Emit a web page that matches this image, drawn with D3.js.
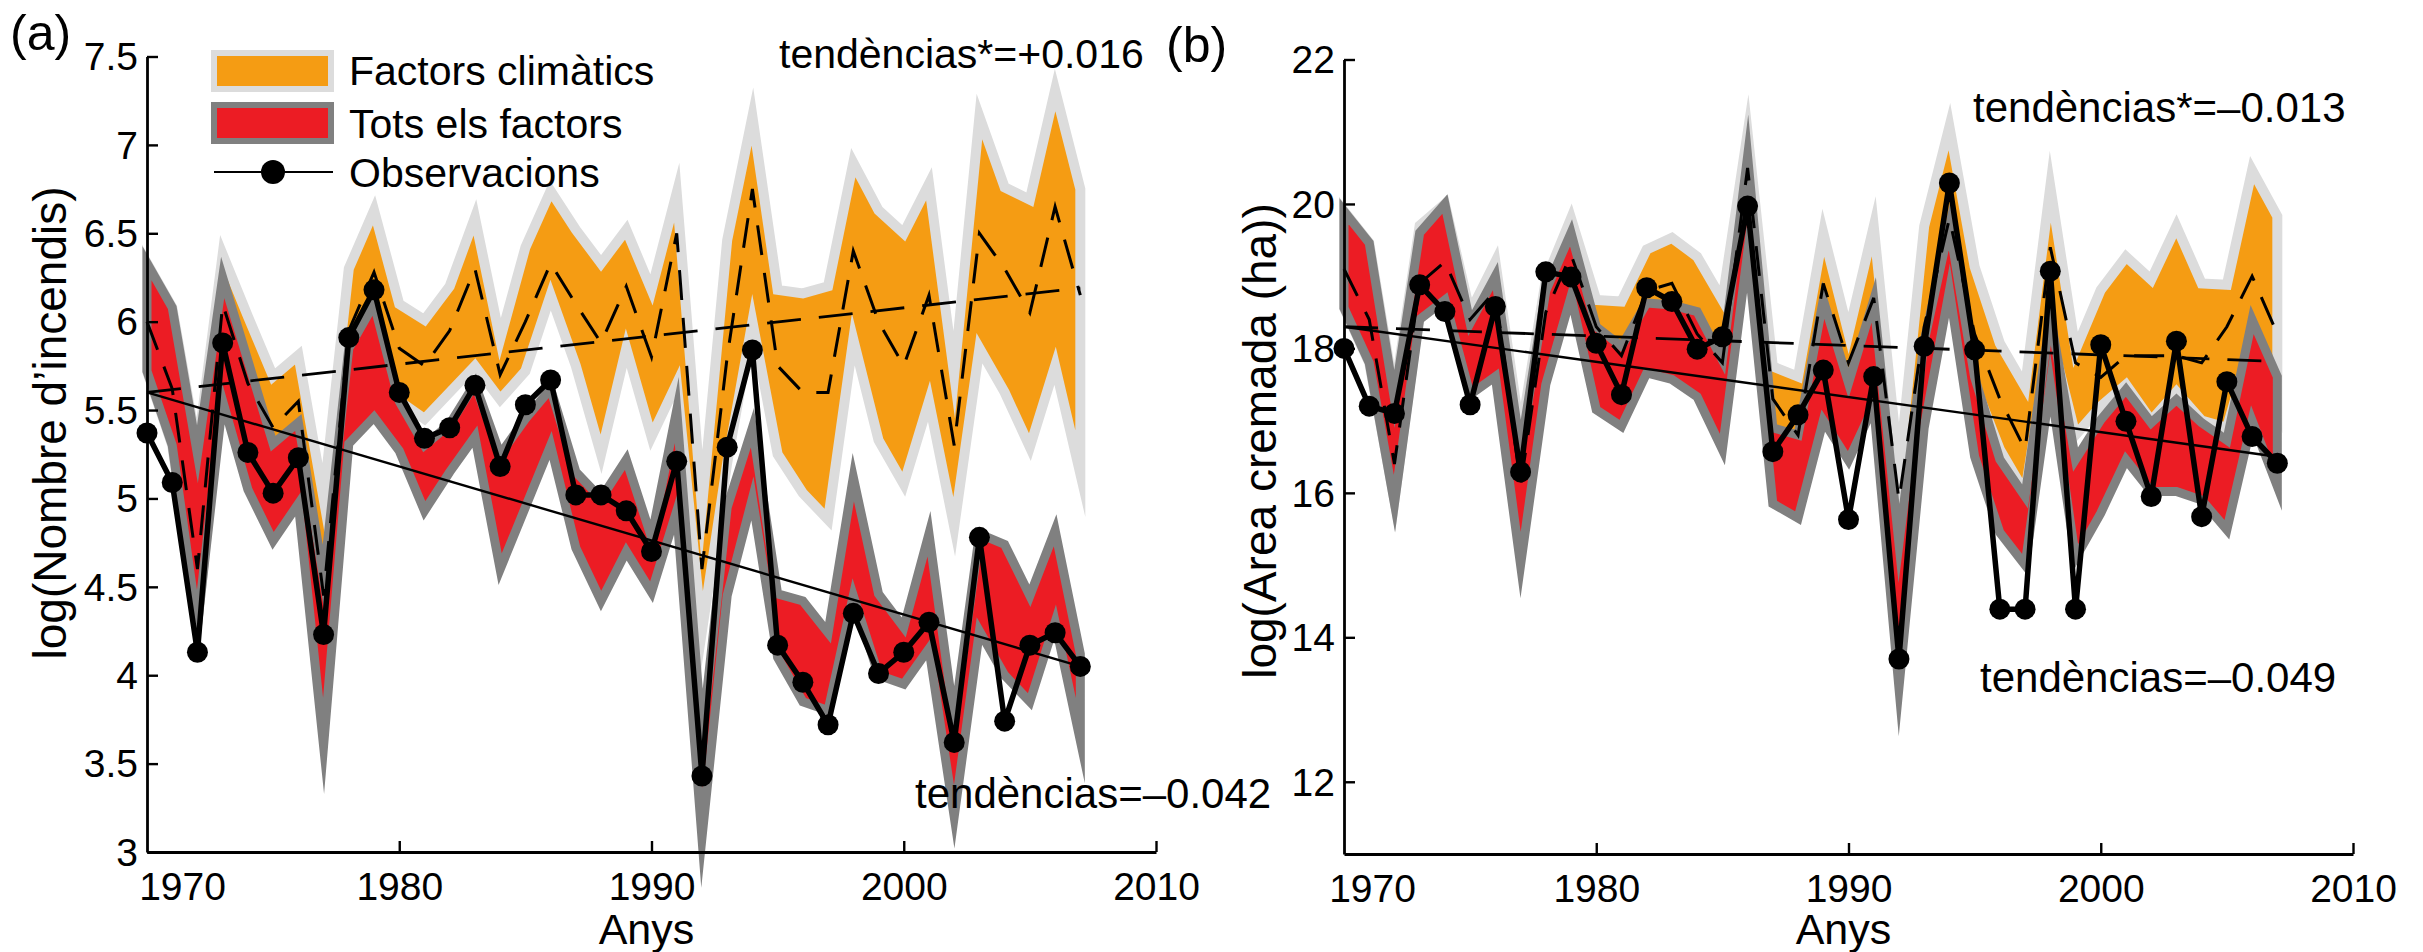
<!DOCTYPE html>
<html><head><meta charset="utf-8">
<script src="https://cdn.jsdelivr.net/npm/d3@7"></script>
<style>
body{margin:0;background:#fff}
text{font-family:"Liberation Sans",Arial,Helvetica,sans-serif;fill:#000}
</style>
</head><body>
<svg id="c" width="2423" height="952"></svg>
<script>
// ---------- data ----------
const years = [1970,1971,1972,1973,1974,1975,1976,1977,1978,1979,1980,1981,1982,1983,1984,1985,1986,1987,1988,1989,1990,1991,1992,1993,1994,1995,1996,1997,1998,1999,2000,2001,2002,2003,2004,2005,2006,2007];

// panel (a): log(Nombre d'incendis)
const obsA     = [5.37,5.09,4.13,5.88,5.26,5.03,5.23,4.23,5.91,6.18,5.60,5.34,5.40,5.64,5.18,5.53,5.67,5.02,5.02,4.93,4.70,5.21,3.43,5.29,5.84,4.17,3.96,3.72,4.35,4.01,4.13,4.30,3.62,4.78,3.74,4.17,4.24,4.05];
const allTopA  = [6.33,6.08,5.25,6.25,5.78,5.31,5.43,4.55,5.85,6.10,5.55,5.30,5.42,5.65,5.25,5.45,5.62,5.15,5.00,5.22,4.78,5.50,3.65,4.95,5.40,4.46,4.42,4.24,5.12,4.46,4.27,4.80,3.75,4.80,4.74,4.45,4.82,4.12];
const allBotA  = [5.72,5.30,4.28,5.55,5.05,4.76,4.97,3.60,5.31,5.46,5.27,4.93,5.15,5.35,4.60,4.95,5.30,4.72,4.42,4.70,4.47,4.93,3.08,4.45,5.00,4.10,3.85,3.80,4.45,4.00,3.95,4.15,3.20,4.25,4.00,3.85,4.30,3.63];
const climTopA = [6.33,6.08,5.27,6.38,6.03,5.69,5.81,5.00,6.30,6.63,6.10,6.01,6.20,6.59,5.90,6.42,6.74,6.52,6.33,6.52,6.18,6.73,4.95,6.46,7.16,6.18,6.16,6.20,6.90,6.63,6.50,6.78,5.70,7.16,6.76,6.69,7.31,6.75];
const climBotA = [5.72,5.30,4.30,5.65,5.30,5.10,5.20,4.35,5.65,5.90,5.55,5.45,5.60,5.75,5.56,5.72,6.15,5.75,5.25,5.85,5.35,5.65,4.25,5.20,6.00,5.25,5.03,4.88,5.90,5.33,5.08,5.55,4.84,5.85,5.60,5.29,5.75,5.14];
const climMedA = [6.00,5.62,4.60,6.10,5.65,5.40,5.55,4.45,5.95,6.28,5.85,5.75,5.95,6.30,5.70,6.00,6.33,6.10,5.88,6.20,5.80,6.50,4.60,5.80,6.75,5.75,5.60,5.60,6.40,6.00,5.75,6.15,5.30,6.50,6.30,6.05,6.65,6.15];
const trendYears = [1970, 2007];
const trendObsA  = [5.60, 4.05];
const trendClimA = [5.60, 6.19];

// panel (b): log(Area cremada (ha))
const obsB     = [18.00,17.20,17.10,18.88,18.51,17.22,18.58,16.29,19.06,18.99,18.07,17.36,18.84,18.65,17.99,18.16,19.97,16.57,17.08,17.70,15.63,17.61,13.70,18.03,20.29,17.98,14.39,14.39,19.07,14.39,18.05,16.99,15.95,18.10,15.67,17.54,16.78,16.41];
const allTopB  = [19.90,19.46,17.30,19.60,20.00,18.35,19.00,16.60,18.80,19.60,18.30,18.03,18.63,18.60,18.51,17.84,20.66,16.90,16.80,18.67,17.52,18.67,15.30,18.10,19.69,17.60,16.46,15.95,18.44,16.46,17.01,17.43,16.97,17.29,16.97,16.73,18.40,17.61];
const allBotB  = [18.56,17.80,15.85,18.40,18.67,17.36,17.61,15.00,17.50,18.72,17.15,16.92,17.66,17.57,17.33,16.60,19.32,15.85,15.65,17.00,16.45,17.20,13.30,16.90,18.80,16.50,15.45,15.00,17.50,15.10,15.72,16.46,16.02,16.02,15.90,15.49,17.00,16.09];
const climTopB = [19.90,19.46,17.35,19.70,20.00,18.50,19.20,16.80,18.95,19.80,18.67,18.65,19.37,19.53,19.27,18.67,20.98,17.75,17.61,19.60,18.21,19.69,16.30,19.69,21.07,19.13,18.07,17.47,20.24,17.98,18.81,19.27,18.95,19.69,18.90,18.88,20.47,19.83];
const climBotB = [18.56,17.80,15.90,18.50,18.70,17.50,17.80,15.20,17.60,18.80,17.40,17.30,18.00,18.00,17.80,17.20,19.50,16.30,16.20,17.60,16.90,17.80,15.50,17.90,19.40,17.50,16.60,16.00,18.20,16.80,17.20,17.50,17.00,17.40,17.00,16.90,18.10,17.20];
const climMedB = [19.10,18.40,16.40,18.90,19.20,18.40,18.80,16.10,18.50,19.30,18.30,17.90,18.80,18.90,18.20,17.80,20.50,17.30,16.80,18.90,17.80,18.70,15.90,18.30,19.80,18.20,17.30,16.60,19.40,17.80,17.60,17.90,17.90,17.90,17.80,18.30,19.00,18.20];
const trendObsB  = [18.30, 16.50];
const trendClimB = [18.30, 17.82];

const xTicks  = [1970, 1980, 1990, 2000, 2010];
const yTicksA = [3, 3.5, 4, 4.5, 5, 5.5, 6, 6.5, 7, 7.5];
const yTicksB = [12, 14, 16, 18, 20, 22];

const legendLabels = ["Factors climàtics", "Tots els factors", "Observacions"];

// ---------- styles ----------
const ORANGE = "#F59C13", ORANGE_EDGE = "#DCDCDC";
const RED = "#EC1C24", RED_EDGE = "#808080";

const svg = d3.select("#c");

function panel(o) {
  const g = svg.append("g");
  const x = d3.scaleLinear().domain([1970, 2010]).range([o.x0, o.x1]);
  const y = d3.scaleLinear().domain(o.yDomain).range([o.yb, o.yt]);

  const rows = years.map((yr, i) => ({yr, obs: o.obs[i], aT: o.allTop[i], aB: o.allBot[i],
    cT: o.climTop[i], cB: o.climBot[i], cM: o.climMed[i]}));

  const areaC = d3.area().x(d => x(d.yr)).y0(d => y(d.cB)).y1(d => y(d.cT));
  const areaA = d3.area().x(d => x(d.yr)).y0(d => y(d.aB)).y1(d => y(d.aT));

  g.append("path").attr("d", areaC(rows)).attr("fill", ORANGE)
    .attr("stroke", ORANGE_EDGE).attr("stroke-width", 10).attr("stroke-linejoin", "miter").attr("stroke-miterlimit", 12);
  g.append("path").attr("d", areaA(rows)).attr("fill", RED)
    .attr("stroke", RED_EDGE).attr("stroke-width", 9).attr("stroke-linejoin", "miter").attr("stroke-miterlimit", 12);

  const line = d3.line().x(d => x(d[0])).y(d => y(d[1]));
  // climatic model median (dashed)
  g.append("path").attr("d", line(rows.map(d => [d.yr, d.cM]))).attr("fill", "none")
    .attr("stroke", "#000").attr("stroke-width", 3).attr("stroke-dasharray", "30,18");
  // climatic trend (dashed)
  g.append("path").attr("d", line(trendYears.map((t, i) => [t, o.trendClim[i]]))).attr("fill", "none")
    .attr("stroke", "#000").attr("stroke-width", 2.8).attr("stroke-dasharray", "34,18");
  // observed trend (solid)
  g.append("path").attr("d", line(trendYears.map((t, i) => [t, o.trendObs[i]]))).attr("fill", "none")
    .attr("stroke", "#000").attr("stroke-width", 2.4);
  // observations
  g.append("path").attr("d", line(rows.map(d => [d.yr, d.obs]))).attr("fill", "none")
    .attr("stroke", "#000").attr("stroke-width", 5.5).attr("stroke-linejoin", "round");
  g.selectAll("circle.obs").data(rows).join("circle").attr("class", "obs")
    .attr("cx", d => x(d.yr)).attr("cy", d => y(d.obs)).attr("r", 10.5).attr("fill", "#000");

  // axes
  const ax = g.append("g").attr("transform", `translate(0,${o.yb})`)
    .call(d3.axisBottom(x).tickValues(xTicks).tickFormat(d3.format("d")).tickSizeInner(-11).tickSizeOuter(0).tickPadding(20));
  ax.selectAll(".tick").filter(d => d === 1970).select("text").attr("x", o.firstLabelShift);
  ax.selectAll(".tick").filter(d => d === 1970).select("line").remove();
  const ay = g.append("g").attr("transform", `translate(${o.x0},0)`)
    .call(d3.axisLeft(y).tickValues(o.yTicks).tickFormat(d3.format("")).tickSizeInner(-11).tickSizeOuter(0).tickPadding(9));
  ay.selectAll("text").attr("dy", "0.34em");
  [ax, ay].forEach(a => {
    a.attr("font-family", null).attr("font-size", null);
    a.selectAll("text").style("font-size", "39px");
    a.selectAll("path.domain").attr("stroke", "#000").attr("stroke-width", 2.8);
    a.selectAll("line").attr("stroke", "#000").attr("stroke-width", 2.4);
  });

  // labels
  g.append("text").attr("x", (o.x0 + o.x1) / 2 - 5).attr("y", 944).attr("text-anchor", "middle")
    .style("font-size", "43px").text("Anys");
  g.append("text").attr("transform", `translate(${o.ylabX},${o.ylabY}) rotate(-90)`)
    .attr("text-anchor", "middle").style("font-size", "46px").text(o.ylabel);
  return {x, y};
}

panel({x0: 147, x1: 1156, yb: 852, yt: 56.5, yDomain: [3, 7.5],
  obs: obsA, allTop: allTopA, allBot: allBotA, climTop: climTopA, climBot: climBotA, climMed: climMedA,
  trendObs: trendObsA, trendClim: trendClimA, yTicks: yTicksA, firstLabelShift: 35,
  ylabel: "log(Nombre d\u2019incendis)", ylabX: 66, ylabY: 423});

panel({x0: 1344, x1: 2353, yb: 854, yt: 59.5, yDomain: [11, 22],
  obs: obsB, allTop: allTopB, allBot: allBotB, climTop: climTopB, climBot: climBotB, climMed: climMedB,
  trendObs: trendObsB, trendClim: trendClimB, yTicks: yTicksB, firstLabelShift: 28,
  ylabel: "log(Area cremada (ha))", ylabX: 1276, ylabY: 441});

// panel letters and annotations
const ann = [
  {t: "(a)", x: 10, y: 50, s: 50},
  {t: "(b)", x: 1166, y: 62, s: 50},
  {t: "tendèncias*=+0.016", x: 779, y: 68, s: 41},
  {t: "tendèncias=\u20130.042", x: 915, y: 808, s: 42},
  {t: "tendèncias*=\u20130.013", x: 1973, y: 122, s: 42},
  {t: "tendèncias=\u20130.049", x: 1980, y: 692, s: 42}
];
svg.selectAll("text.ann").data(ann).join("text").attr("class", "ann")
  .attr("x", d => d.x).attr("y", d => d.y).style("font-size", d => d.s + "px").text(d => d.t);

// legend
const lg = svg.append("g");
lg.append("rect").attr("x", 214).attr("y", 53).attr("width", 117).attr("height", 36)
  .attr("fill", ORANGE).attr("stroke", ORANGE_EDGE).attr("stroke-width", 6);
lg.append("rect").attr("x", 214).attr("y", 105).attr("width", 117).attr("height", 36)
  .attr("fill", RED).attr("stroke", RED_EDGE).attr("stroke-width", 6);
lg.append("line").attr("x1", 214).attr("x2", 333).attr("y1", 172).attr("y2", 172)
  .attr("stroke", "#000").attr("stroke-width", 2);
lg.append("circle").attr("cx", 273).attr("cy", 172).attr("r", 12).attr("fill", "#000");
lg.selectAll("text").data(legendLabels).join("text")
  .attr("x", 349).attr("y", (d, i) => [85, 138, 187][i]).style("font-size", "41px").text(d => d);
</script>
</body></html>
